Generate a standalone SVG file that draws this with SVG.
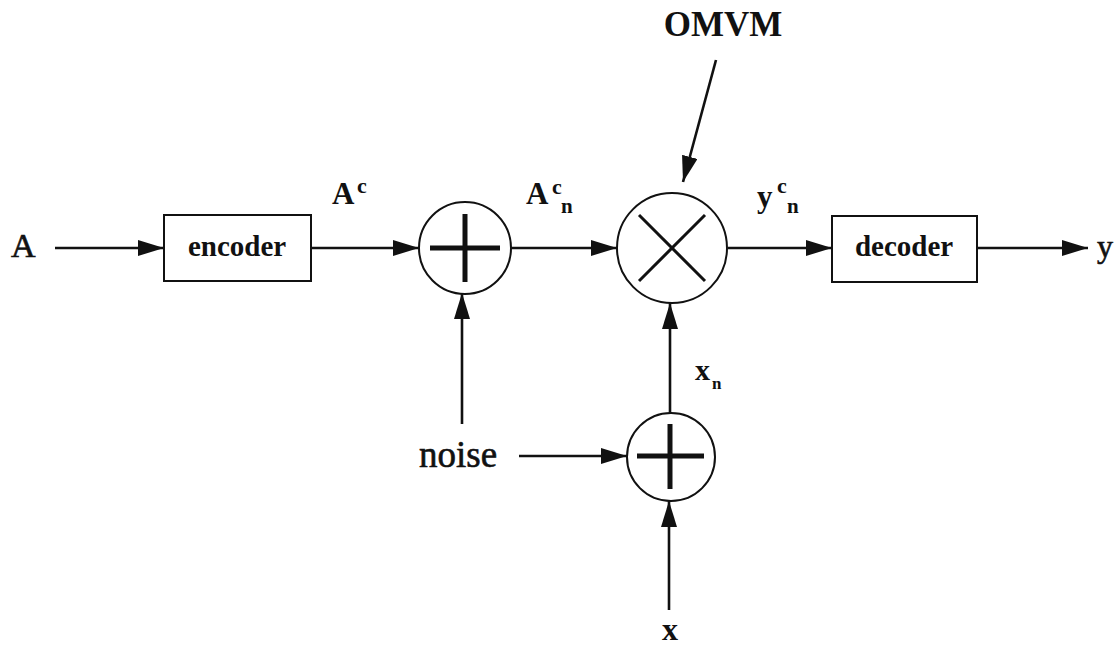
<svg xmlns="http://www.w3.org/2000/svg" width="1120" height="646" viewBox="0 0 1120 646">
  <style>
    .box { fill: #ffffff; stroke: #111; stroke-width: 2; }
    .ring { fill: #ffffff; stroke: #111; stroke-width: 2; }
    .plus { stroke: #111; stroke-width: 5; fill: none; }
    .times { stroke: #111; stroke-width: 3; fill: none; }
    .wire { stroke: #111; stroke-width: 2.6; fill: none; marker-end: url(#arrow); }
    .lbl { fill: #111; }
    .r { stroke: #111; stroke-width: 0.6; }
    .b { font-weight: bold; }
  </style>
  <defs>
    <marker id="arrow" markerUnits="userSpaceOnUse" markerWidth="27" markerHeight="16" refX="26" refY="8" orient="auto">
      <path d="M0,0 L26,8 L0,16 z" fill="#111"/>
    </marker>
  </defs>
  <rect x="0" y="0" width="1120" height="646" fill="#ffffff"/>

  <!-- signal paths -->
  <g id="connectors">
    <line class="wire" x1="55" y1="248" x2="164" y2="248"/>
    <line class="wire" x1="311" y1="248" x2="419" y2="248"/>
    <line class="wire" x1="511" y1="248" x2="617" y2="248"/>
    <line class="wire" x1="728" y1="248" x2="832" y2="248"/>
    <line class="wire" x1="977" y1="248" x2="1088" y2="248"/>
    <line class="wire" x1="462" y1="424" x2="462" y2="293"/>
    <line class="wire" x1="519" y1="456" x2="627" y2="456"/>
    <line class="wire" x1="670" y1="413" x2="670" y2="303"/>
    <line class="wire" x1="669" y1="610" x2="669" y2="501"/>
    <line class="wire" x1="716" y1="60" x2="683" y2="182"/>
  </g>

  <g style="font-family: 'Liberation Serif', serif">
    <g id="input-A">
      <text class="lbl r" x="11" y="257" font-size="34">A</text>
    </g>

    <g id="encoder">
      <rect class="box" x="164" y="215" width="147" height="66"/>
      <text class="lbl b" x="237" y="256" font-size="29" text-anchor="middle">encoder</text>
    </g>

    <g id="label-Ac">
      <text class="lbl b" x="332" y="204" font-size="31">A</text>
      <text class="lbl b" x="357" y="193" font-size="22">c</text>
    </g>

    <g id="adder-1">
      <circle class="ring" cx="465" cy="248" r="46"/>
      <line class="plus" x1="430" y1="248" x2="500" y2="248"/>
      <line class="plus" x1="465" y1="214" x2="465" y2="282"/>
    </g>

    <g id="label-Acn">
      <text class="lbl b" x="526" y="204" font-size="31">A</text>
      <text class="lbl b" x="552" y="194" font-size="22">c</text>
      <text class="lbl b" x="561" y="213" font-size="21">n</text>
    </g>

    <g id="multiplier">
      <circle class="ring" cx="672" cy="248" r="55"/>
      <line class="times" x1="639" y1="215" x2="705" y2="281"/>
      <line class="times" x1="705" y1="215" x2="639" y2="281"/>
    </g>

    <g id="label-OMVM">
      <text class="lbl b" x="723" y="36" font-size="35" text-anchor="middle">OMVM</text>
    </g>

    <g id="label-ycn">
      <text class="lbl b" x="757" y="207" font-size="31">y</text>
      <text class="lbl b" x="777" y="193" font-size="22">c</text>
      <text class="lbl b" x="787" y="213" font-size="21">n</text>
    </g>

    <g id="decoder">
      <rect class="box" x="832" y="216" width="145" height="66"/>
      <text class="lbl b" x="904" y="256" font-size="29" text-anchor="middle">decoder</text>
    </g>

    <g id="output-y">
      <text class="lbl r" x="1097" y="257" font-size="32">y</text>
    </g>

    <g id="noise">
      <text class="lbl r" x="419" y="467" font-size="37">noise</text>
    </g>

    <g id="adder-2">
      <circle class="ring" cx="671" cy="457" r="44"/>
      <line class="plus" x1="637" y1="456" x2="704" y2="456"/>
      <line class="plus" x1="670" y1="424" x2="670" y2="489"/>
    </g>

    <g id="label-xn">
      <text class="lbl b" x="695" y="380" font-size="30">x</text>
      <text class="lbl b" x="712" y="389" font-size="17">n</text>
    </g>

    <g id="input-x">
      <text class="lbl b" x="670" y="640" font-size="32" text-anchor="middle">x</text>
    </g>
  </g>
</svg>
